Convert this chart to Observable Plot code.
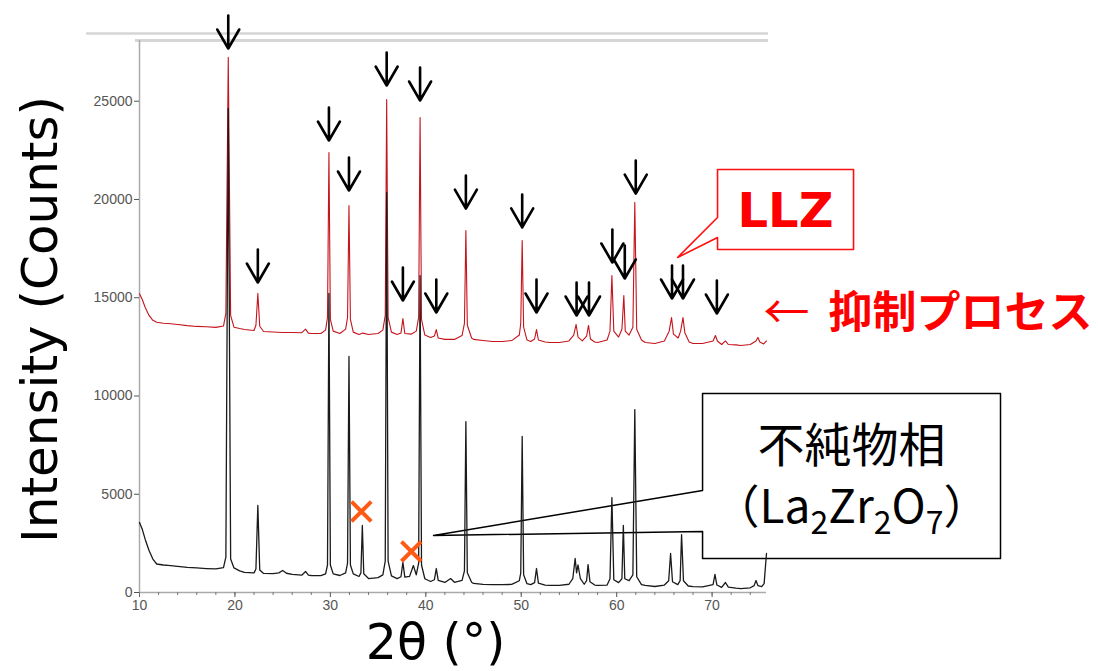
<!DOCTYPE html>
<html><head><meta charset="utf-8">
<script src="https://cdn.jsdelivr.net/npm/d3@7"></script>
<script src="https://cdn.jsdelivr.net/npm/@observablehq/plot@0.6"></script>
<style>body{margin:0;background:#fff} #chart svg{display:block}</style>
</head><body><div id="chart"></div>
<script>
// XRD pattern, conventional process (black): [2θ, counts]
const blackPattern = [[10,3560],[10.3,3200],[10.6,2700],[11,2140],[11.4,1700],[11.8,1450],[12.5,1400],[13,1380],[14,1330],[15,1280],[16,1250],[17,1220],[18,1200],[18.8,1270],[19.05,1800],[19.3,24630],[19.55,1700],[19.9,1250],[20.5,1100],[21,1020],[22,1000],[22.2,1200],[22.4,4430],[22.6,1150],[23,970],[24,960],[24.6,1000],[25,1120],[25.4,980],[26,920],[27,880],[27.4,1070],[27.7,880],[28,865],[29,860],[29.5,950],[29.7,1400],[29.85,15220],[30.0,1400],[30.3,950],[31,865],[31.6,1000],[31.8,1500],[31.95,12010],[32.1,1400],[32.4,950],[33,815],[33.2,1000],[33.35,3410],[33.5,950],[34,710],[35,760],[35.5,900],[35.75,1600],[35.9,20360],[36.05,1600],[36.4,850],[37,710],[37.4,800],[37.6,1530],[37.8,780],[38.3,820],[38.7,1370],[39.0,900],[39.25,1500],[39.4,16130],[39.55,1400],[39.9,700],[40.5,560],[40.9,650],[41.1,1220],[41.3,620],[42,510],[42.6,710],[43,520],[43.8,620],[44.05,1100],[44.2,8700],[44.35,1000],[44.8,520],[45,460],[46,410],[47,400],[48,400],[49,410],[49.8,600],[49.95,1000],[50.1,7940],[50.25,900],[50.6,450],[51,400],[51.4,500],[51.6,1220],[51.8,480],[52.5,380],[53,360],[54,360],[55,420],[55.4,700],[55.65,1730],[55.8,1000],[55.95,1400],[56.2,700],[56.6,420],[56.85,600],[57.0,1420],[57.2,550],[57.7,380],[58,360],[59,380],[59.3,700],[59.5,4830],[59.7,650],[60.2,500],[60.55,700],[60.7,3410],[60.85,700],[61.3,600],[61.7,900],[61.9,9310],[62.1,800],[62.6,400],[63,360],[64,305],[65,380],[65.45,600],[65.65,1985],[65.85,550],[66.4,400],[66.65,600],[66.8,2950],[67.0,600],[67.5,330],[68,300],[69,290],[70.1,400],[70.3,920],[70.5,380],[71,260],[71.4,510],[71.7,270],[72.5,220],[73,200],[74,240],[74.4,350],[74.6,610],[74.8,350],[75.2,300],[75.45,450],[75.7,1985]];

// XRD pattern, suppression process (red): [2θ, counts]
const redPattern = [[10,15200],[10.3,14900],[10.6,14500],[11,14100],[11.4,13850],[11.8,13750],[12.5,13700],[13,13690],[14,13640],[15,13580],[16,13540],[17,13520],[18,13490],[18.8,13560],[19.05,14200],[19.3,27230],[19.55,14100],[19.9,13500],[20.5,13430],[21,13380],[22,13330],[22.2,13600],[22.4,15220],[22.6,13550],[23,13280],[24,13260],[25,13230],[26,13230],[27,13220],[27.4,13400],[27.7,13200],[28,13180],[29,13180],[29.5,13350],[29.7,14000],[29.85,22390],[30.0,13900],[30.3,13300],[31,13180],[31.6,13400],[31.8,14000],[31.95,19690],[32.1,13900],[32.4,13250],[33,13130],[33.4,13200],[34,13130],[35,13180],[35.5,13350],[35.75,14100],[35.9,25090],[36.05,14000],[36.4,13250],[37,13130],[37.4,13200],[37.6,13940],[37.8,13180],[38.5,13150],[39.0,13300],[39.25,14000],[39.4,24170],[39.55,13900],[39.9,13100],[40.5,12980],[40.9,13050],[41.1,13380],[41.3,12950],[42,12880],[43,12880],[43.8,13080],[44.05,13700],[44.2,18420],[44.35,13600],[44.8,12950],[45,12880],[46,12820],[47,12770],[48,12770],[49,12820],[49.8,13100],[49.95,13700],[50.1,17910],[50.25,13500],[50.6,12850],[51,12770],[51.4,12900],[51.6,13380],[51.8,12850],[52.5,12750],[53,12720],[54,12720],[55,12800],[55.5,13100],[55.75,13640],[55.95,13000],[56.4,12800],[56.85,13050],[57.05,13590],[57.25,12900],[57.7,12750],[58,12720],[59,12850],[59.3,13300],[59.5,16130],[59.7,13300],[60.2,13000],[60.55,13400],[60.75,15110],[60.9,13300],[61.3,13100],[61.7,13500],[61.9,19850],[62.1,13400],[62.6,12850],[63,12720],[64,12670],[65,12800],[65.5,13300],[65.75,13990],[65.95,13150],[66.45,12950],[66.7,13300],[66.95,13990],[67.15,13200],[67.6,12750],[68,12670],[69,12670],[70.1,12800],[70.35,13080],[70.55,12800],[71,12620],[71.4,12800],[71.7,12620],[72.5,12600],[73,12570],[74,12620],[74.6,12800],[74.8,12980],[75.0,12750],[75.4,12650],[75.7,12800]];

// LLZ peak markers: [2θ, arrow tip counts]
const llzMarkers = [[19.3,27683],[22.4,15775],[29.85,23001],[31.95,20457],[35.9,25800],[39.4,25037],[37.6,14859],[41.1,14249],[44.2,19539],[50.1,18577],[51.6,14249],[55.8,14096],[57.1,14096],[59.55,16793],[60.85,15979],[62.0,20302],[65.8,14961],[66.95,14961],[70.5,14198]];

// impurity peak markers: [2θ, counts]
const impurityMarkers = [[33.25,4120],[38.48,2090]];

// callout outlines: [2θ, counts]
const llzCallout = [[70.57,21526],[84.82,21526],[84.82,17455],[70.57,17455],[70.57,18065],[66.38,17047],[70.57,19083],[70.57,21526]];
const impurityCallout = [[69.0,10127],[100.22,10127],[100.22,1730],[69.0,1730],[69.0,3104],[40.81,2901],[69.0,5191],[69.0,10127]];

const yTicks = [0,5000,10000,15000,20000,25000];
const xTicks = [10,20,30,40,50,60,70];
const xMinorTicks = [10,12,14,16,18,20,22,24,26,28,30,32,34,36,38,40,42,44,46,48,50,52,54,56,58,60,62,64,66,68,70,72,74];

const labels = {
  y: "Intensity (Counts)",
  x: "2θ (°)",
  llz: "LLZ",
  arrow: "←",
  process: "抑制プロセス",
  impurity1: "不純物相",
  impurity2: "（La₂Zr₂O₇）"
};

const pts = a => a.map(([t, c]) => ({theta: t, counts: c}));
const downArrow = {
  draw(ctx, l) {
    ctx.moveTo(0, 0); ctx.lineTo(0, -l);
    ctx.moveTo(-11, -l + 19); ctx.lineTo(0, -l); ctx.lineTo(11, -l + 19);
  }
};

const chart = Plot.plot({
  width: 1098, height: 671,
  marginLeft: 139, marginRight: 332, marginTop: 40, marginBottom: 79,
  x: {domain: [10, 75.7]},
  y: {domain: [0, 28090]},
  style: {fontFamily: "'Liberation Sans', Arial, sans-serif", background: "#fff", overflow: "visible"},
  marks: [
    Plot.ruleY([28446], {x1: 4.45, x2: 75.91, stroke: "#d6d6d6", strokeWidth: 2.5}),
    Plot.ruleY([28090], {x1: 9.58, x2: 75.91, stroke: "#d6d6d6", strokeWidth: 3}),
    Plot.ruleX([10], {y1: 0, y2: 28090, stroke: "#aaa", strokeWidth: 1.5}),
    Plot.ruleY([0], {stroke: "#aaa", strokeWidth: 1.5}),
    Plot.axisY({ticks: yTicks, tickSize: 5, tickPadding: 2, fontSize: 14, color: "#555", label: null, tickFormat: d3.format("d")}),
    Plot.axisX({ticks: xTicks, tickSize: 5, tickPadding: 3, fontSize: 14, color: "#555", label: null}),
    Plot.axisX({ticks: xMinorTicks, tickSize: 3, text: null, label: null, color: "#777"}),
    Plot.line(pts(llzCallout), {x: "theta", y: "counts", fill: "white", stroke: "#ff1010", strokeWidth: 1.6}),
    Plot.line(pts(impurityCallout), {x: "theta", y: "counts", fill: "white", stroke: "#000", strokeWidth: 1.5}),
    Plot.line(pts(redPattern), {x: "theta", y: "counts", stroke: "#c4141c", strokeWidth: 1.1}),
    Plot.line(pts(blackPattern), {x: "theta", y: "counts", stroke: "#1a1a1a", strokeWidth: 1.3}),
    Plot.vector(pts(llzMarkers), {x: "theta", y: "counts", anchor: "end", rotate: 180, length: 33, shape: downArrow, stroke: "#000", strokeWidth: 2.6}),
    Plot.dot(pts(impurityMarkers), {x: "theta", y: "counts", symbol: "times", r: 9, stroke: "#ff5a14", strokeWidth: 4}),
    Plot.text([labels.llz], {x: 77.69, y: 19388, text: d => d, fontSize: 48, fontWeight: "bold", fontFamily: "'DejaVu Sans', sans-serif", fill: "#ff0000"}),
    Plot.text([labels.arrow], {x: 77.8, y: 14198, text: d => d, fontSize: 46, fontFamily: "'Noto Sans CJK JP', sans-serif", fill: "#ff0000"}),
    Plot.text([labels.process], {x: 82.2, y: 14198, text: d => d, textAnchor: "start", fontSize: 44, fontWeight: "bold", fontFamily: "'Noto Sans CJK JP', sans-serif", fill: "#ff0000"}),
    Plot.text([labels.impurity1], {x: 84.61, y: 7430, text: d => d, fontSize: 47, fontFamily: "'Noto Sans CJK JP', sans-serif", fill: "#000"}),
    Plot.text([labels.impurity2], {x: 84.61, y: 4275, text: d => d, fontSize: 46, fontFamily: "'Noto Sans CJK JP', sans-serif", fill: "#000", className: "formula"}),
    Plot.text([labels.y], {x: -0.37, y: 13892, rotate: -90, textAnchor: "middle", lineAnchor: "middle", text: d => d, fontSize: 50, fontFamily: "'DejaVu Sans', sans-serif", fill: "#000"}),
    Plot.text([labels.x], {x: 41.02, y: -2595, textAnchor: "middle", lineAnchor: "middle", text: d => d, fontSize: 49, fontFamily: "'DejaVu Sans', sans-serif", fill: "#000"})
  ]
});
document.getElementById("chart").append(chart);

// render subscript digits of the formula as lowered, smaller tspans
const subMap = {"₂": "2", "₇": "7"};
d3.select(chart).selectAll("g.formula text").each(function () {
  const el = d3.select(this);
  const str = el.text();
  el.text(null);
  let sub = false;
  for (const ch of str) {
    if (subMap[ch]) {
      el.append("tspan").attr("font-size", 32).attr("dy", sub ? 0 : 11).text(subMap[ch]);
      sub = true;
    } else {
      el.append("tspan").attr("dy", sub ? -11 : 0).text(ch);
      sub = false;
    }
  }
});
</script>
</body></html>
